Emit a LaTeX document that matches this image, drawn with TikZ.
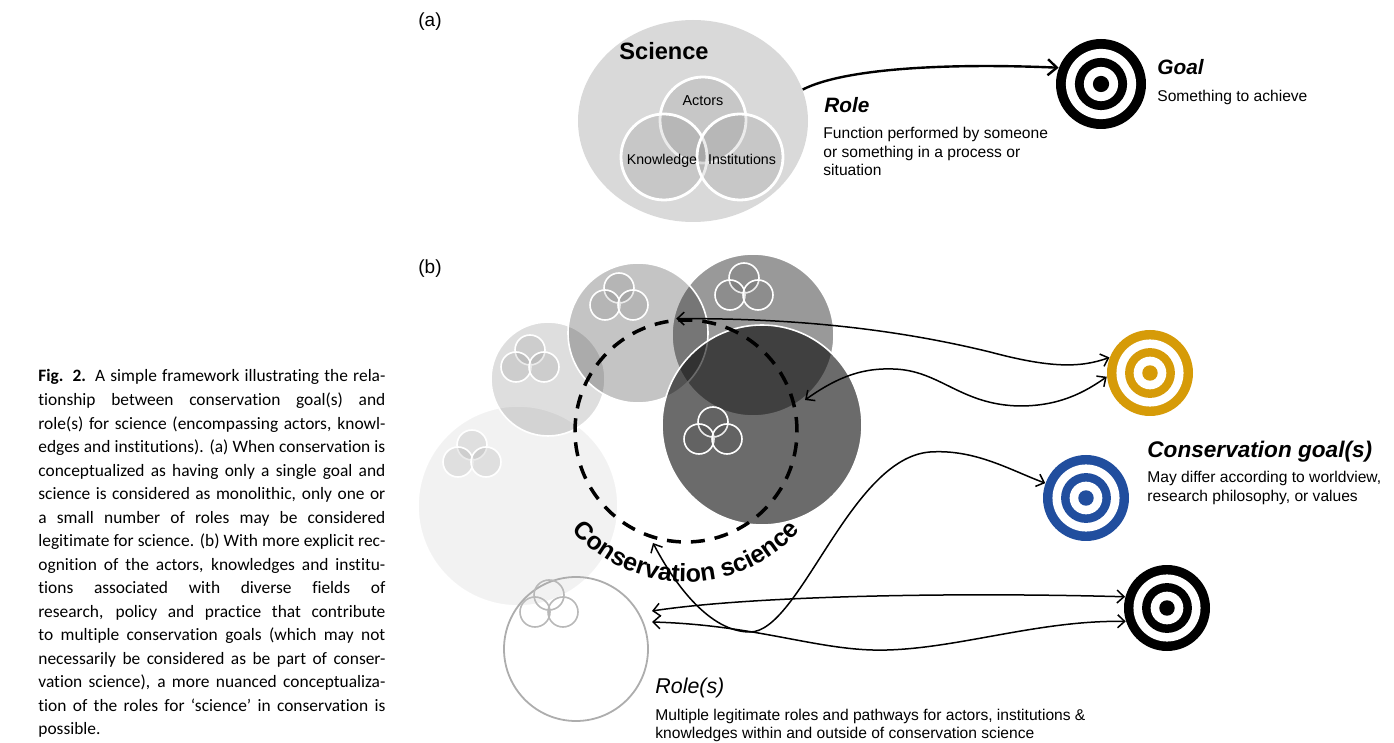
\documentclass[tikz,border=0pt]{standalone}
\usepackage{fontspec}
\setmainfont{Liberation Sans}
\newfontfamily\capfont[Ligatures={NoCommon,NoContextual}]{Carlito}
\usetikzlibrary{arrows.meta,shapes.geometric,decorations.text,calc}
\definecolor{goalyellow}{RGB}{214,155,8}
\definecolor{goalblue}{RGB}{33,78,158}
\definecolor{scigray}{RGB}{217,217,217}
\newcommand\csfont{\fontsize{12.5}{14}\selectfont\bfseries}
\newcommand\drawtarget[5]{%
  \node[circle,inner sep=0,minimum size=#4pt,fill=#5] (#1) at (#2,#3) {};
  \fill[white] (#1.center) circle[radius=0.78*#4];
  \fill[#5] (#1.center) circle[radius=0.58*#4];
  \fill[white] (#1.center) circle[radius=0.38*#4];
  \fill[#5] (#1.center) circle[radius=0.18*#4];
}
\newcommand\trio[4]{%
  \node[#4] (#1a) at (#2,#3-11) {};
  \node[#4] (#1b) at (#2-14,#3+6) {};
  \node[#4] (#1c) at (#2+14,#3+6) {};
}
\newcommand\capline[2]{%
  \node[capl] (cap#1) at (38,{382+23.53*(#1-1)}) {\makebox[173.5pt][s]{#2}};
}
\begin{document}
\begin{tikzpicture}[x=0.5pt,y=-0.5pt,
  capl/.style={inner sep=0,anchor=base west,font=\capfont\fontsize{8.7}{10}\selectfont},
  lbl/.style={inner sep=0,anchor=base west},
  desc/.style={inner sep=0,anchor=base west,font=\fontsize{7.8}{9}\selectfont},
  bub/.style={circle,inner sep=0,draw=white,line width=0.8pt,fill=black,fill opacity=#1},
  smallc/.style={circle,inner sep=0,minimum size=15pt,draw=white,line width=0.8pt,fill=black,fill opacity=0.08},
  smallg/.style={circle,inner sep=0,minimum size=15pt,draw=black!28,line width=0.8pt},
  venn/.style={circle,inner sep=0,minimum size=43pt,draw=white,line width=1.4pt,fill=black,fill opacity=0.08},
  conn/.style={line width=0.75pt,<->},
  >={Straight Barb[length=3.5pt,width=6.5pt]}]
\useasboundingbox (0,0) rectangle (1394,743);

% ---------- caption ----------
\capline{1}{\textbf{Fig. 2.} A simple framework illustrating the rela-}
\capline{2}{tionship between conservation goal(s) and}
\capline{3}{role(s) for science (encompassing actors, knowl-}
\capline{4}{edges and institutions). (a) When conservation is}
\capline{5}{conceptualized as having only a single goal and}
\capline{6}{science is considered as monolithic, only one or}
\capline{7}{a small number of roles may be considered}
\capline{8}{legitimate for science. (b) With more explicit rec-}
\capline{9}{ognition of the actors, knowledges and institu-}
\capline{10}{tions associated with diverse fields of}
\capline{11}{research, policy and practice that contribute}
\capline{12}{to multiple conservation goals (which may not}
\capline{13}{necessarily be considered as be part of conser-}
\capline{14}{vation science), a more nuanced conceptualiza-}
\capline{15}{tion of the roles for ‘science’ in conservation is}
\node[capl] (cap16) at (38,{382+23.53*15}) {possible.};

% ---------- panel (a) ----------
\node[lbl,font=\fontsize{9.5}{11}\selectfont] (la) at (418,27) {(a)};
\node[ellipse,inner sep=0,minimum width=115pt,minimum height=101pt,fill=scigray] (sci) at (693,121) {};
\node[venn] (act) at (703,120) {};
\node[venn] (kno) at (664,157) {};
\node[venn] (ins) at (740,157) {};
\node[lbl,font=\fontsize{11.8}{13}\selectfont\bfseries] (scit) at (619,60) {Science};
\node[inner sep=0,anchor=base,font=\fontsize{7.2}{9}\selectfont] (actt) at (703,106) {Actors};
\node[inner sep=0,anchor=base,font=\fontsize{7.1}{9}\selectfont] (knot) at (662,165) {Knowledge};
\node[inner sep=0,anchor=base,font=\fontsize{7.1}{9}\selectfont] (inst) at (742,165) {Institutions};

\drawtarget{goal}{1101}{84}{45}{black}
\draw[line width=1.2pt,->,>={Straight Barb[length=4.5pt,width=8pt]}] (sci.16) .. controls (845,68) and (950,63) .. (goal.159);

\node[lbl,font=\fontsize{10.4}{12}\selectfont\bfseries\itshape] (rolet) at (824,113) {Role};
\node[desc] (fn1) at (823,139) {Function performed by someone};
\node[desc] (fn2) at (823,158) {or something in a process or};
\node[desc] (fn3) at (823,176) {situation};
\node[lbl,font=\fontsize{10.4}{12}\selectfont\bfseries\itshape] (goalt) at (1157,75) {Goal};
\node[desc] (goald) at (1157,102) {Something to achieve};

% ---------- panel (b) ----------
\node[lbl,font=\fontsize{9.5}{11}\selectfont] (lb) at (418,274) {(b)};
\node[bub=0.05,minimum size=100pt] (c5) at (518,506) {};
\node[bub=0.13,minimum size=57pt] (c1) at (548,379) {};
\node[bub=0.40,minimum size=81pt] (c3) at (753,335) {};
\node[bub=0.23,minimum size=70pt] (c2) at (638,333) {};
\node[bub=0.58,minimum size=100pt] (c4) at (762,425) {};
\node[circle,inner sep=0,minimum size=72pt,draw=black!32,line width=0.9pt] (c6) at (576,649) {};

\trio{t5}{472}{456}{smallc}
\trio{t1}{530}{361}{smallc}
\trio{t2}{619}{299}{smallc}
\trio{t3}{744}{289}{smallc}
\trio{t4}{713}{433}{smallc}
\trio{t6}{549}{606}{smallg}

\node[circle,draw,inner sep=0,minimum size=111pt,line width=1.75pt,dash pattern=on 7pt off 5pt] (cs) at (686,431) {};
\path[decorate,decoration={text along path,text={|\csfont|Conservation science},text align=center}]
  ($(cs.center)+(150:151)$) arc (150:30:151);

\drawtarget{ty}{1150}{373}{43}{goalyellow}
\drawtarget{tb}{1086}{498}{43}{goalblue}
\drawtarget{tk}{1167}{608}{43}{black}

\coordinate (r2) at (805,400);
\coordinate (r3) at (653,543);
\coordinate (r4) at (652,611);
\coordinate (r5) at (652,622);

\draw[conn] (cs.95) .. controls (800,318) and (900,330) .. (990,352) .. controls (1050,368) and (1080,368) .. (ty.159);
\draw[conn] (r2) .. controls (840,375) and (865,368) .. (893,369) .. controls (940,370) and (960,405) .. (1020,406) .. controls (1060,406) and (1085,392) .. (ty.185);
\draw[conn] (r3) .. controls (675,585) and (710,632) .. (750,632) .. controls (800,632) and (850,458) .. (930,452) .. controls (975,449) and (1010,470) .. (tb.160);
\draw[conn] (r4) .. controls (750,596) and (950,592) .. (tk.165);
\draw[conn] (r5) .. controls (760,625) and (820,652) .. (887,650) .. controls (960,648) and (1040,620) .. (tk.198);

\node[lbl,font=\fontsize{11.3}{13}\selectfont\bfseries\itshape] (cgt) at (1147,458) {Conservation goal(s)};
\node[desc] (cg1) at (1147,483) {May differ according to worldview,};
\node[desc] (cg2) at (1147,502) {research philosophy, or values};
\node[lbl,font=\fontsize{10.7}{12}\selectfont\itshape] (rst) at (655,693) {Role(s)};
\node[desc] (rs1) at (655,720) {Multiple legitimate roles and pathways for actors, institutions \&};
\node[desc] (rs2) at (655,738) {knowledges within and outside of conservation science};
\end{tikzpicture}
\end{document}
